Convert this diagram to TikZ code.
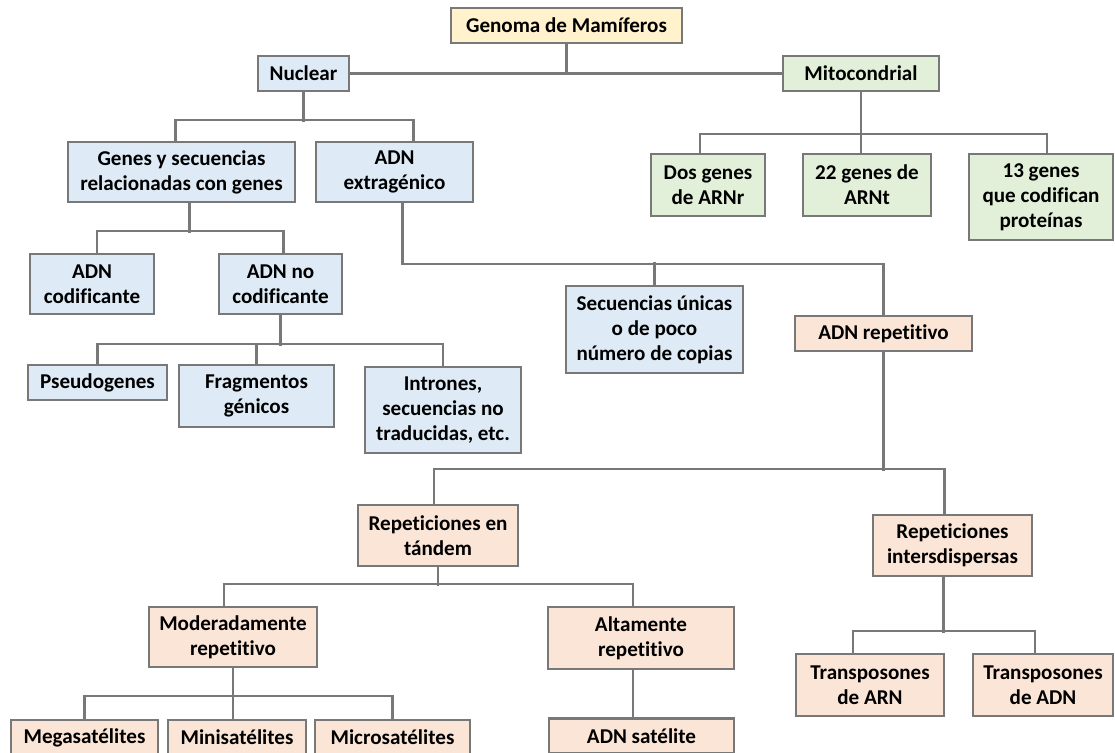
\documentclass[tikz,border=0pt]{standalone}
\usepackage{fontspec}
\setmainfont{Carlito}[Ligatures=NoCommon]
\usepackage{tikz}
\usetikzlibrary{positioning,calc}

\definecolor{linegray}{RGB}{120,120,120}
\definecolor{fillyellow}{RGB}{255,242,204}
\definecolor{fillblue}{RGB}{222,235,247}
\definecolor{fillgreen}{RGB}{226,240,217}
\definecolor{fillpeach}{RGB}{251,229,214}

\tikzset{
	box/.style={draw=linegray, line width=1.7pt, align=center, inner sep=0pt,
		font=\bfseries\fontsize{15}{17.8}\selectfont},
	dims/.style 2 args={minimum width=#1*0.025cm, minimum height=#2*0.025cm},
	nucbox/.style={box, fill=fillblue},
	mitbox/.style={box, fill=fillgreen},
	repbox/.style={box, fill=fillpeach},
	link/.style={draw=linegray, line width=1.7pt}
}

\begin{document}
\begin{tikzpicture}[x=0.025cm, y=-0.025cm]
	\useasboundingbox (0,0) rectangle (1115,753);

	\node[box, fill=fillyellow, dims={231}{35}] (gen) at (566.5,25.5) {Genoma de Mamíferos};
	\node[nucbox, dims={91}{35}] (nuc) at (303.5,73.5) {Nuclear};
	\node[mitbox, dims={156}{35}] (mit) at (861,73.5) {Mitocondrial};

	\node[nucbox, dims={227}{60}] (genes) at (181.5,172) {Genes y secuencias\\relacionadas con genes};
	\node[nucbox, dims={157}{60}] (extra) at (394.5,172) {ADN\\extragénico};
	\node[mitbox, dims={114}{62}] (dos) at (708,185) {Dos genes\\de ARNr};
	\node[mitbox, dims={128}{62}] (veint) at (867,185) {22 genes de\\ARNt};
	\node[mitbox, dims={144}{86}] (trece) at (1041,197) {13 genes\\que codifican\\proteínas};

	\node[nucbox, dims={124}{60}] (cod) at (92,284) {ADN\\codificante};
	\node[nucbox, dims={123}{60}] (nocod) at (280.5,284) {ADN no\\codificante};
	\node[nucbox, dims={177}{87}] (unicas) at (654.5,329.5) {Secuencias únicas\\o de poco\\número de copias};
	\node[repbox, dims={177}{35}] (repet) at (883.5,333.5) {ADN repetitivo};

	\node[nucbox, dims={139}{35}] (pseudo) at (97.5,382.5) {Pseudogenes};
	\node[nucbox, dims={155}{62}] (frag) at (256.5,396) {Fragmentos\\génicos};
	\node[nucbox, dims={156}{86}] (intr) at (443,410) {Intrones,\\secuencias no\\traducidas, etc.};

	\node[repbox, dims={160}{61}] (tandem) at (438,535.5) {Repeticiones en\\tándem};
	\node[repbox, dims={159}{61}] (inter) at (952.5,545.5) {Repeticiones\\intersdispersas};
	\node[repbox, dims={168}{60}] (moder) at (233,637) {Moderadamente\\repetitivo};
	\node[repbox, dims={186}{62}] (alta) at (641,638) {Altamente\\repetitivo};
	\node[repbox, dims={148}{62}] (tarn) at (870,685) {Transposones\\de ARN};
	\node[repbox, dims={140}{62}] (tadn) at (1043,685) {Transposones\\de ADN};

	\node[repbox, dims={147}{35}] (mega) at (84.5,737.5) {Megasatélites};
	\node[repbox, dims={138}{35}] (mini) at (237,737.5) {Minisatélites};
	\node[repbox, dims={155}{35}] (micro) at (392.5,737.5) {Microsatélites};
	\node[repbox, dims={185}{35}] (sat) at (641.5,736) {ADN satélite};

	\draw[link] (gen.south) -- (gen.south |- nuc.east);
	\draw[link] (nuc.east) -- (mit.west);

	\draw[link] (nuc.south) -- ++(0,30);
	\draw[link] ($(genes.north)+(-6,0)$) |- ($(extra.north)+(19,-21)$) -- ($(extra.north)+(19,0)$);
	\draw[link] (mit.south) -- (mit.south |- veint.north);
	\draw[link] ($(dos.north)+(-8,0)$) |- ($(trece.north)+(6,-19)$) -- ($(trece.north)+(6,0)$);

	\draw[link] ($(genes.south)+(8,0)$) -- ++(0,30);
	\draw[link] ($(cod.north)+(5,0)$) -- ++(0,-22) -| ($(nocod.north)+(3,0)$);
	\draw[link] ($(extra.south)+(8,0)$) -- ++(0,61) -| (repet.north);
	\draw[link] (unicas.north) -- ++(0,-23);

	\draw[link] (nocod.south) -- ++(0,31);
	\draw[link] (pseudo.north) -- ++(0,-20) -| (intr.north);
	\draw[link] (frag.north) -- ++(0,-20);

	\draw[link] (repet.south) -- ++(0,119);
	\draw[link] ($(tandem.north)+(-4,0)$) -- ++(0,-35) -| ($(inter.north)+(-8,0)$);
	\draw[link] (tandem.south) -- ++(0,19);
	\draw[link] ($(moder.north)+(-9,0)$) -- ++(0,-22) -| ($(alta.north)+(-8,0)$);
	\draw[link] ($(alta.south)+(-8,0)$) -- ++(0,49);
	\draw[link] ($(inter.south)+(-9,0)$) -- ++(0,56);
	\draw[link] ($(tarn.north)+(-17,0)$) -- ++(0,-22) -| ($(tadn.north)+(-8,0)$);

	\draw[link] (moder.south) -- (moder.south |- mini.north);
	\draw[link] (mega.north) -- ++(0,-23) -| (micro.north);
\end{tikzpicture}
\end{document}
